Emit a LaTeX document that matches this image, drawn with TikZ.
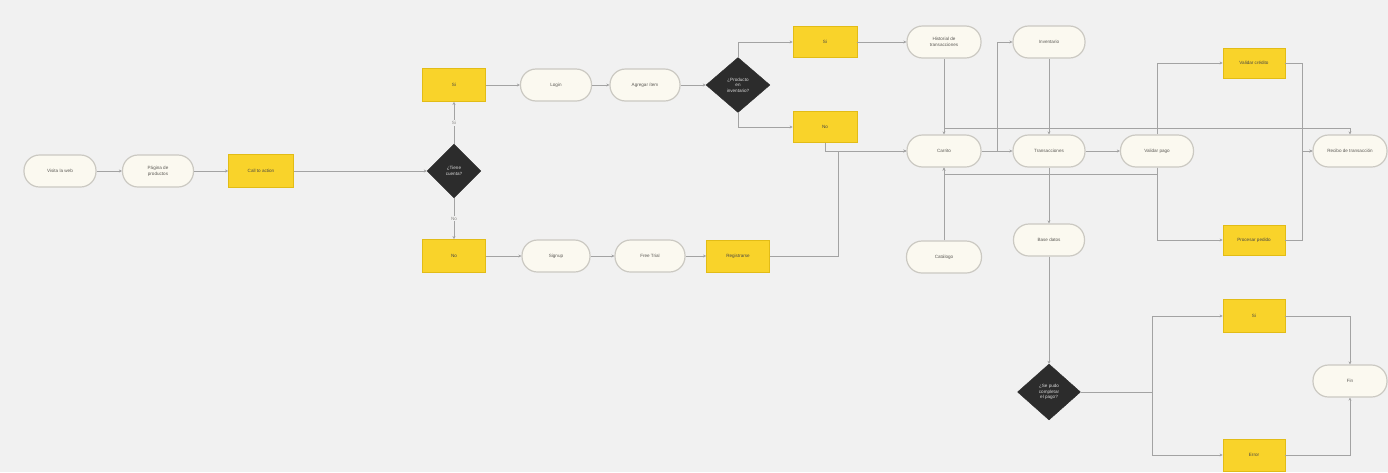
\documentclass[tikz,border=0pt]{standalone}
\usepackage{fontspec}
\setmainfont{Liberation Sans}
\usetikzlibrary{shapes.geometric,arrows.meta}

\definecolor{bg}{HTML}{F1F1F1}
\definecolor{termfill}{HTML}{FBF9F0}
\definecolor{termline}{HTML}{CBC9C2}
\definecolor{actfill}{HTML}{F9D32A}
\definecolor{actline}{HTML}{E2BC16}
\definecolor{decfill}{HTML}{2C2C2C}
\definecolor{linegray}{HTML}{A3A3A3}
\definecolor{txt}{HTML}{5C5A55}

\tikzset{
  smallfont/.style={font=\fontsize{4.6pt}{5.6pt}\selectfont},
  term/.style={rectangle, rounded corners=15.5pt, draw=termline, line width=1.2pt,
    fill=termfill, minimum width=72pt, minimum height=32pt, inner sep=1pt,
    align=center, text=txt, smallfont},
  act/.style={rectangle, draw=actline, line width=0.8pt, fill=actfill,
    minimum width=63pt, minimum height=31pt, inner sep=1pt, align=center,
    text=txt!80!black, smallfont},
  dec/.style={diamond, aspect=1, fill=decfill, draw=decfill, minimum width=56pt,
    minimum height=56pt, inner sep=0pt, align=center, text=white!85!black, smallfont},
  conn/.style={draw=linegray, line width=0.9pt},
  arr/.style={conn, -{Stealth[length=3pt,width=3pt]}},
  lbl/.style={fill=bg, inner sep=1pt, text=txt!70, smallfont}
}

\begin{document}
\begin{tikzpicture}[x=1pt,y=-1pt]
\fill[bg] (0,0) rectangle (1388,472);
\useasboundingbox (0,0) rectangle (1388,472);

% entry chain
\node[term] (visita) at (60,171) {Visita la web};
\node[term, minimum width=71pt] (pagina) at (158,171) {Página de\\productos};
\node[act, minimum width=65pt, minimum height=33pt] (cta) at (261,171) {Call to action};
\node[dec, minimum width=54pt, minimum height=54pt] (cuenta) at (454,171) {¿Tiene\\cuenta?};
\node[act, minimum height=33pt] (si1) at (454,85) {Si};
\node[act, minimum height=33pt] (no1) at (454,256) {No};

% login branch
\node[term, minimum width=71pt] (login) at (556,85) {Login};
\node[term, minimum width=70pt] (item) at (645,85) {Agregar ítem};
\node[dec, minimum width=64pt, minimum height=55pt] (stock) at (738,85) {¿Producto\\en\\inventario?};
\node[act, minimum width=64pt] (si2) at (825,42) {Si};
\node[act, minimum width=64pt] (no2) at (825,127) {No};

% signup branch
\node[term, minimum width=68pt] (signup) at (556,256) {Signup};
\node[term, minimum width=70pt] (trial) at (650,256) {Free Trial};
\node[act, minimum height=32pt] (registro) at (738,256) {Registrarse};

% central block
\node[term, minimum width=74pt] (hist) at (944,42) {Historial de\\transacciones};
\node[term, minimum width=74pt] (carrito) at (944,151) {Carrito};
\node[term, minimum width=75pt] (catalogo) at (944,257) {Catálogo};
\node[term] (inventario) at (1049,42) {Inventario};
\node[term] (trans) at (1049,151) {Transacciones};
\node[term, minimum width=71pt] (bd) at (1049,240) {Base datos};

% payment block
\node[term, minimum width=73pt] (valpago) at (1157,151) {Validar pago};
\node[act, minimum width=62pt, minimum height=30pt] (valcred) at (1254,63) {Validar crédito};
\node[act, minimum width=62pt, minimum height=30pt] (proc) at (1254,240) {Procesar pedido};
\node[term, minimum width=74pt] (recibo) at (1350,151) {Recibo de transacción};

% closing block
\node[dec, minimum width=63pt, minimum height=56pt] (pago) at (1049,392) {¿Se pudo\\completar\\el pago?};
\node[act, minimum width=62pt, minimum height=33pt] (si3) at (1254,316) {Si};
\node[act, minimum width=62pt, minimum height=32pt] (no3) at (1254,455) {Error};
\node[term, minimum width=74pt] (fin) at (1350,381) {Fin};

% junction points
\coordinate (j1) at (838,151);
\coordinate (j2) at (997,151);
\coordinate (j3) at (944,128);
\coordinate (j5) at (1302,151);
\coordinate (j6) at (1152,392);

% connectors
\draw[arr] (visita) -- (pagina);
\draw[arr] (pagina) -- (cta);
\draw[arr] (cta) -- (cuenta);
\draw[arr] (cuenta) -- node[lbl] {Si} (si1);
\draw[arr] (cuenta) -- node[lbl] {No} (no1);

\draw[arr] (si1) -- (login);
\draw[arr] (login) -- (item);
\draw[arr] (item) -- (stock);
\draw[arr] (stock.north) |- (si2.west);
\draw[arr] (stock.south) |- (no2.west);
\draw[arr] (si2) -- (hist);
\draw[arr] (no2.south) |- (carrito.west);

\draw[arr] (no1) -- (signup);
\draw[arr] (signup) -- (trial);
\draw[arr] (trial) -- (registro);
\draw[arr] (registro.east) -| (j1) -- (carrito.west);

\draw[arr] (hist) -- (carrito);
\draw[arr] (catalogo) -- (carrito);
\draw[arr] (carrito) -- (trans);
\draw[arr] (j2) |- (inventario.west);
\draw[arr] (inventario) -- (trans);
\draw[arr] (j3) -| (recibo.north);
\draw[arr] (trans) -- (valpago);
\draw[arr] (trans) -- (bd);
\draw[arr] (bd) -- (pago);

\draw[arr] (valpago.south) -- ++(0,7) -| (carrito.south);
\draw[arr] (valpago.north) |- (valcred.west);
\draw[arr] (valpago.south) |- (proc.west);
\draw[arr] (valcred.east) -| (j5) -- (recibo.west);
\draw[arr] (proc.east) -| (j5) -- (recibo.west);

\draw[arr] (pago.east) -- (j6) |- (si3.west);
\draw[arr] (j6) |- (no3.west);
\draw[arr] (si3.east) -| (fin.north);
\draw[arr] (no3.east) -| (fin.south);
\end{tikzpicture}
\end{document}
